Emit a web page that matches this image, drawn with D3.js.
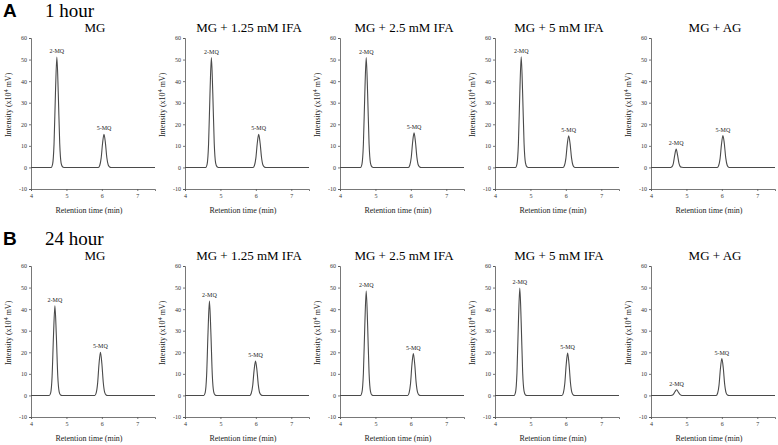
<!DOCTYPE html>
<html>
<head>
<meta charset="utf-8">
<script src="https://cdn.jsdelivr.net/npm/d3@7"></script>
<style>
  body { margin: 0; background: #fff; }
  svg { display: block; }
  .axis path, .axis line { stroke: #555; stroke-width: 0.8; }
  .axis text { font-family: "Liberation Serif", serif; font-size: 6px; fill: #333; }
</style>
</head>
<body>
<svg id="chart" width="778" height="445"></svg>
<script>
var rowLetters = ["A", "B"];
var rowTitles = ["1 hour", "24 hour"];
var panelTitles = ["MG", "MG + 1.25 mM IFA", "MG + 2.5 mM IFA", "MG + 5 mM IFA", "MG + AG"];
var xTicks = [4, 5, 6, 7];
var yTicks = [-10, 0, 10, 20, 30, 40, 50, 60];

// peak apex [time, intensity] for the labels, per row then panel
var peaks2MQ = [
  [[4.73, 51.2], [4.745, 50.9], [4.74, 50.9], [4.74, 51.3], [4.71, 8.5]],
  [[4.675, 41.5], [4.69, 43.7], [4.74, 48.4], [4.70, 49.8], [4.72, 2.6]]
];
var peaks5MQ = [
  [[6.06, 15.4], [6.08, 15.3], [6.09, 16.0], [6.08, 14.7], [6.03, 14.8]],
  [[5.96, 20.0], [5.99, 15.9], [6.07, 19.4], [6.05, 19.6], [6.00, 17.1]]
];

// chromatogram traces
var trace1hMG = [[4, 0], [4.57, 0], [4.61, 1.5], [4.65, 10.8], [4.69, 34.3], [4.73, 51.2], [4.77, 34.3], [4.81, 11.3], [4.85, 2.0], [4.89, 0.3], [4.93, 0],
  [5.90, 0], [5.94, 0.9], [5.98, 4.3], [6.02, 11.2], [6.06, 15.4], [6.10, 11.4], [6.14, 4.6], [6.18, 1.1], [6.22, 0.2], [6.26, 0], [7.5, 0]];
var trace1hIFA125 = [[4, 0], [4.585, 0], [4.625, 1.5], [4.665, 10.7], [4.705, 34.1], [4.745, 50.9], [4.785, 34.1], [4.825, 11.2], [4.865, 2.0], [4.905, 0.3], [4.945, 0],
  [5.92, 0], [5.96, 0.9], [6.00, 4.3], [6.04, 11.2], [6.08, 15.3], [6.12, 11.3], [6.16, 4.6], [6.20, 1.1], [6.24, 0.2], [6.28, 0], [7.5, 0]];
var trace1hIFA25 = [[4, 0], [4.58, 0], [4.62, 1.5], [4.66, 10.7], [4.70, 34.1], [4.74, 50.9], [4.78, 34.1], [4.82, 11.2], [4.86, 2.0], [4.90, 0.3], [4.94, 0],
  [5.93, 0], [5.97, 1.0], [6.01, 4.5], [6.05, 11.7], [6.09, 16.0], [6.13, 11.8], [6.17, 4.8], [6.21, 1.1], [6.25, 0.2], [6.29, 0], [7.5, 0]];
var trace1hIFA5 = [[4, 0], [4.58, 0], [4.62, 1.5], [4.66, 10.8], [4.70, 34.4], [4.74, 51.3], [4.78, 34.4], [4.82, 11.3], [4.86, 2.1], [4.90, 0.3], [4.94, 0],
  [5.92, 0], [5.96, 0.9], [6.00, 4.1], [6.04, 10.7], [6.08, 14.7], [6.12, 10.9], [6.16, 4.4], [6.20, 1.0], [6.24, 0.1], [6.28, 0], [7.5, 0]];
var trace1hAG = [[4, 0], [4.55, 0], [4.59, 0.3], [4.63, 1.8], [4.67, 5.7], [4.71, 8.5], [4.75, 5.7], [4.79, 1.9], [4.83, 0.3], [4.87, 0.05], [4.91, 0],
  [5.87, 0], [5.91, 0.9], [5.95, 4.1], [5.99, 10.8], [6.03, 14.8], [6.07, 11.0], [6.11, 4.4], [6.15, 1.0], [6.19, 0.1], [6.23, 0], [7.5, 0]];
var trace24hMG = [[4, 0], [4.515, 0], [4.555, 1.2], [4.595, 8.7], [4.635, 27.8], [4.675, 41.5], [4.715, 27.8], [4.755, 9.1], [4.795, 1.7], [4.835, 0.2], [4.875, 0],
  [5.80, 0], [5.84, 1.2], [5.88, 5.6], [5.92, 14.6], [5.96, 20.0], [6.00, 14.8], [6.04, 6.0], [6.08, 1.4], [6.12, 0.2], [6.16, 0], [7.5, 0]];
var trace24hIFA125 = [[4, 0], [4.53, 0], [4.57, 1.3], [4.61, 9.2], [4.65, 29.3], [4.69, 43.7], [4.73, 29.3], [4.77, 9.6], [4.81, 1.7], [4.85, 0.2], [4.89, 0],
  [5.83, 0], [5.87, 1.0], [5.91, 4.5], [5.95, 11.6], [5.99, 15.9], [6.03, 11.8], [6.07, 4.8], [6.11, 1.1], [6.15, 0.2], [6.19, 0], [7.5, 0]];
var trace24hIFA25 = [[4, 0], [4.58, 0], [4.62, 1.5], [4.66, 10.2], [4.70, 32.4], [4.74, 48.4], [4.78, 32.4], [4.82, 10.6], [4.86, 1.9], [4.90, 0.2], [4.94, 0],
  [5.91, 0], [5.95, 1.2], [5.99, 5.4], [6.03, 14.2], [6.07, 19.4], [6.11, 14.4], [6.15, 5.8], [6.19, 1.4], [6.23, 0.2], [6.27, 0], [7.5, 0]];
var trace24hIFA5 = [[4, 0], [4.54, 0], [4.58, 1.5], [4.62, 10.5], [4.66, 33.4], [4.70, 49.8], [4.74, 33.4], [4.78, 11.0], [4.82, 2.0], [4.86, 0.2], [4.90, 0],
  [5.89, 0], [5.93, 1.2], [5.97, 5.5], [6.01, 14.3], [6.05, 19.6], [6.09, 14.5], [6.13, 5.9], [6.17, 1.4], [6.21, 0.2], [6.25, 0], [7.5, 0]];
var trace24hAG = [[4, 0], [4.54, 0], [4.59, 0.1], [4.63, 0.5], [4.675, 1.7], [4.72, 2.6], [4.765, 1.7], [4.81, 0.6], [4.85, 0.1], [4.90, 0],
  [5.84, 0], [5.88, 1.0], [5.92, 4.8], [5.96, 12.5], [6.00, 17.1], [6.04, 12.7], [6.08, 5.1], [6.12, 1.2], [6.16, 0.2], [6.20, 0], [7.5, 0]];

var traces = [
  [trace1hMG, trace1hIFA125, trace1hIFA25, trace1hIFA5, trace1hAG],
  [trace24hMG, trace24hIFA125, trace24hIFA25, trace24hIFA5, trace24hAG]
];

var svg = d3.select("#chart");
var colX = [31, 185, 340, 495, 651];
var plotW = 124;
var rowTop = [38, 266], plotH = 151;
var serif = "'Liberation Serif', 'Times New Roman', serif";

rowLetters.forEach(function(letter, r) {
  var dy = r * 228;
  svg.append("text").attr("x", 3).attr("y", 17 + dy)
    .style("font-family", "'Liberation Sans', Arial, sans-serif").style("font-weight", "bold").style("font-size", "19px")
    .text(letter);
  svg.append("text").attr("x", 45).attr("y", 17 + dy)
    .style("font-family", serif).style("font-size", "19px")
    .text(rowTitles[r]);

  panelTitles.forEach(function(title, c) {
    var x = d3.scaleLinear().domain([4, 7.5]).range([0, plotW]);
    var y = d3.scaleLinear().domain([-10, 60]).range([plotH, 0]);
    var g = svg.append("g").attr("transform", "translate(" + colX[c] + "," + rowTop[r] + ")");

    g.append("text").attr("x", plotW / 2 + 2).attr("y", -6)
      .attr("text-anchor", "middle")
      .style("font-family", serif).style("font-size", "13px")
      .text(title);

    g.append("g").attr("class", "axis")
      .call(d3.axisLeft(y).tickValues(yTicks).tickSize(2).tickPadding(2).tickFormat(function(d) { return String(d); }));
    g.append("g").attr("class", "axis").attr("transform", "translate(0," + plotH + ")")
      .call(d3.axisBottom(x).tickValues(xTicks).tickSize(2).tickPadding(3).tickFormat(function(d) { return String(d); }));

    // y label with superscript
    var yl = g.append("text").attr("transform", "translate(-20," + y(29) + ") rotate(-90)")
      .attr("text-anchor", "middle")
      .style("font-family", serif).style("font-size", "8px").style("fill", "#222");
    yl.append("tspan").text("Intensity (x10");
    yl.append("tspan").attr("dy", -3).style("font-size", "6px").text("4");
    yl.append("tspan").attr("dy", 3).text(" mV)");

    g.append("text").attr("x", plotW / 2 - 4).attr("y", plotH + 24)
      .attr("text-anchor", "middle")
      .style("font-family", serif).style("font-size", "8px").style("fill", "#222")
      .text("Retention time (min)");

    var line = d3.line().x(function(d) { return x(d[0]); }).y(function(d) { return y(d[1]); })
      .curve(d3.curveMonotoneX);
    g.append("path").datum(traces[r][c]).attr("d", line)
      .attr("fill", "none").attr("stroke", "#4a4a4a").attr("stroke-width", 1.1);

    [[peaks2MQ[r][c], "2-MQ"], [peaks5MQ[r][c], "5-MQ"]].forEach(function(p) {
      g.append("text").attr("x", x(p[0][0])).attr("y", y(p[0][1]) - 4)
        .attr("text-anchor", "middle")
        .style("font-family", serif).style("font-size", "6px").style("fill", "#222")
        .text(p[1]);
    });
  });
});
</script>
</body>
</html>
